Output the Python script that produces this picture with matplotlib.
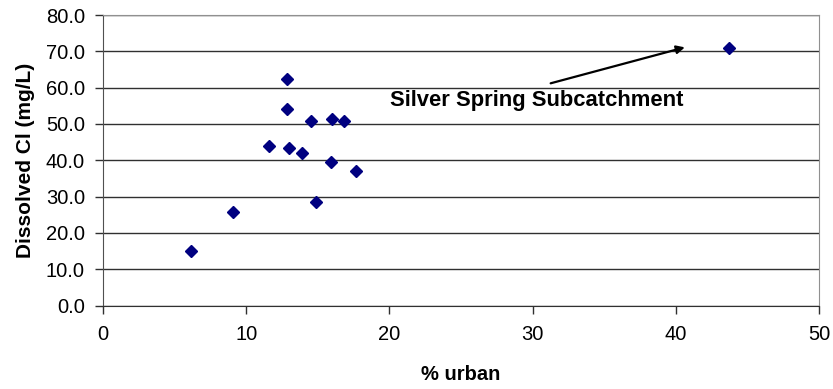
import matplotlib.pyplot as plt

# % urban vs dissolved Cl for each subcatchment
urban = [6.15, 9.06, 11.61, 12.88, 12.88, 13.01, 13.92, 14.50, 14.86, 15.90, 16.01, 16.85, 17.67, 43.72]
chloride = [15.1, 25.7, 43.9, 62.3, 54.0, 43.5, 42.1, 50.8, 28.4, 39.4, 51.3, 50.8, 37.1, 70.8]

label_text = 'Silver Spring Subcatchment'
label_xy = (20.05, 54.95)
arrow_tail = (31.26, 61.2)
arrow_head = (40.63, 71.1)

plt.rcParams['font.family'] = ['Liberation Sans', 'DejaVu Sans']

fig = plt.figure(figsize=(8.33, 3.89), dpi=100)
ax = fig.add_axes([0.1237, 0.2144, 0.9832 - 0.1237, 0.9614 - 0.2144])

ax.plot(urban, chloride, linestyle='none', marker='D', markersize=6,
        color='#000080', zorder=3)

ax.set_xlim(0, 50)
ax.set_ylim(0, 80)
ax.set_xticks(range(0, 51, 10))
ax.set_yticks(range(0, 81, 10))
ax.set_yticklabels(['%.1f' % v for v in range(0, 81, 10)])

ax.grid(axis='y', color='#303030', linewidth=1)
ax.set_axisbelow(True)

for side in ['top', 'right']:
    ax.spines[side].set_color('#909090')
ax.spines['left'].set_color('#505050')
ax.spines['bottom'].set_color('#303030')

ax.tick_params(axis='both', direction='out', length=6, width=1, labelsize=14.5,
               colors='#303030', labelcolor='black')
ax.tick_params(axis='y', pad=7)
ax.tick_params(axis='x', pad=8)

ax.set_xlabel('% urban', fontsize=14.5, fontweight='bold', labelpad=15)
ax.set_ylabel('Dissolved Cl (mg/L)', fontsize=15, fontweight='bold', labelpad=8)

ax.text(label_xy[0], label_xy[1], label_text, fontsize=15.8, fontweight='bold',
        va='baseline', ha='left')
ax.annotate('', xy=arrow_head, xytext=arrow_tail,
            arrowprops=dict(arrowstyle='-|>', color='black', lw=1.6,
                            mutation_scale=12, shrinkA=0, shrinkB=0))

plt.savefig('out.png', dpi=100)
